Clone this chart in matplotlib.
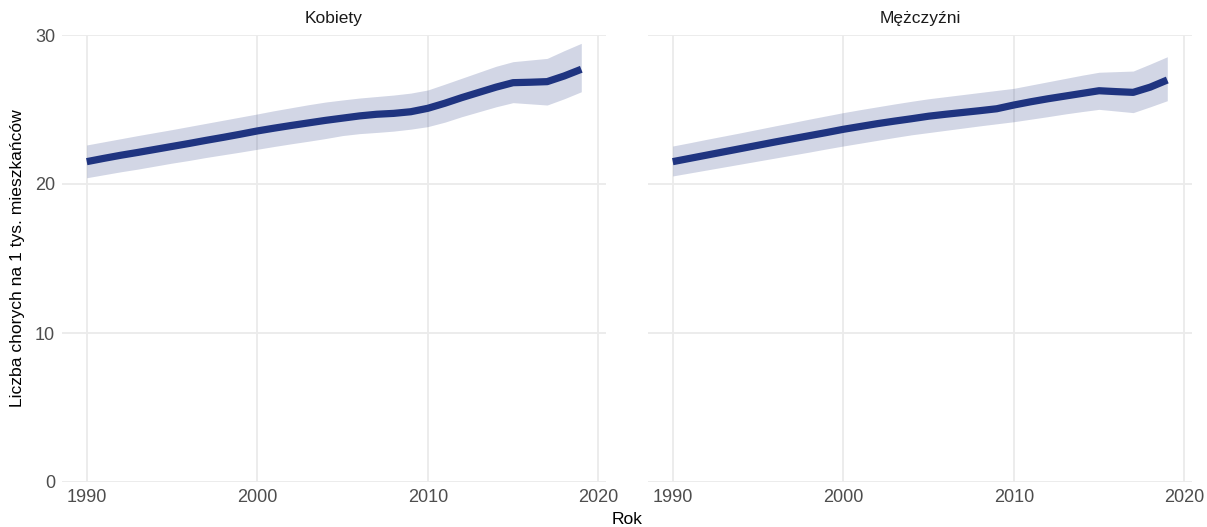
import matplotlib
matplotlib.use("Agg")
from matplotlib import pyplot as plt
import numpy as np

plt.rcParams['font.family'] = ['Liberation Sans', 'DejaVu Sans']

years = np.arange(1990, 2020)

# Kobiety
k_mid = [21.5, 21.72, 21.93, 22.12, 22.32, 22.52, 22.72, 22.93, 23.13, 23.34,
         23.56, 23.75, 23.93, 24.1, 24.27, 24.42, 24.57, 24.68, 24.74, 24.85,
         25.08, 25.42, 25.8, 26.15, 26.5, 26.8, 26.83, 26.87, 27.25, 27.7]
k_low = [20.42, 20.62, 20.82, 21.0, 21.2, 21.4, 21.58, 21.78, 21.96, 22.14,
         22.33, 22.52, 22.7, 22.87, 23.05, 23.25, 23.38, 23.46, 23.55, 23.68,
         23.85, 24.15, 24.52, 24.85, 25.18, 25.46, 25.38, 25.3, 25.72, 26.19]
k_up = [22.62, 22.83, 23.04, 23.25, 23.45, 23.65, 23.86, 24.07, 24.28, 24.49,
        24.7, 24.92, 25.12, 25.32, 25.5, 25.64, 25.77, 25.87, 25.97, 26.1,
        26.31, 26.7, 27.1, 27.5, 27.9, 28.21, 28.32, 28.43, 28.95, 29.44]

# Mężczyźni
m_mid = [21.5, 21.72, 21.94, 22.16, 22.38, 22.6, 22.82, 23.03, 23.24, 23.45,
         23.67, 23.86, 24.05, 24.22, 24.38, 24.55, 24.68, 24.8, 24.92, 25.05,
         25.3, 25.52, 25.72, 25.9, 26.08, 26.26, 26.2, 26.15, 26.5, 26.98]
m_low = [20.54, 20.74, 20.94, 21.14, 21.34, 21.54, 21.74, 21.94, 22.14, 22.35,
         22.55, 22.74, 22.93, 23.12, 23.3, 23.45, 23.6, 23.75, 23.9, 24.04,
         24.18, 24.35, 24.52, 24.7, 24.86, 25.01, 24.9, 24.79, 25.18, 25.59]
m_up = [22.55, 22.77, 23.0, 23.22, 23.44, 23.67, 23.9, 24.12, 24.35, 24.57,
        24.79, 24.99, 25.18, 25.37, 25.55, 25.72, 25.86, 26.0, 26.14, 26.28,
        26.42, 26.64, 26.86, 27.08, 27.3, 27.5, 27.54, 27.58, 28.05, 28.54]

panels = [("Kobiety", k_mid, k_low, k_up), ("Mężczyźni", m_mid, m_low, m_up)]

navy = "#1F3480"
grid = "#EBEBEB"

fig = plt.figure(figsize=(12.07, 5.27), dpi=100)
W, H = 1207, 527
lefts = [62, 648]
for i, (name, mid, low, up) in enumerate(panels):
    ax = fig.add_axes([lefts[i] / W, (H - 482) / H, 544 / W, 447 / H])
    ax.fill_between(years, low, up, color=navy, alpha=0.2, linewidth=0)
    ax.plot(years, mid, color=navy, linewidth=5.2, solid_capstyle="butt")
    ax.set_xlim(1988.55, 2020.45)
    ax.set_ylim(0, 30)
    ax.set_xticks([1990, 2000, 2010, 2020])
    ax.set_yticks([0, 10, 20, 30])
    ax.grid(True, color=grid, linewidth=1.3)
    ax.set_axisbelow(True)
    for s in ax.spines.values():
        s.set_visible(False)
    ax.tick_params(length=0, labelsize=13, colors="#4D4D4D", pad=5)
    if i == 1:
        ax.tick_params(labelleft=False)
    ax.set_title(name, fontsize=12.5, color="#1A1A1A", pad=9)

fig.text(627 / W, (H - 519) / H, "Rok", ha="center", va="center", fontsize=12.6)
fig.text(18 / W, (H - 258) / H, "Liczba chorych na 1 tys. mieszkańców", rotation=90,
         ha="center", va="center", fontsize=12.6)

fig.savefig("out.png", dpi=100)
